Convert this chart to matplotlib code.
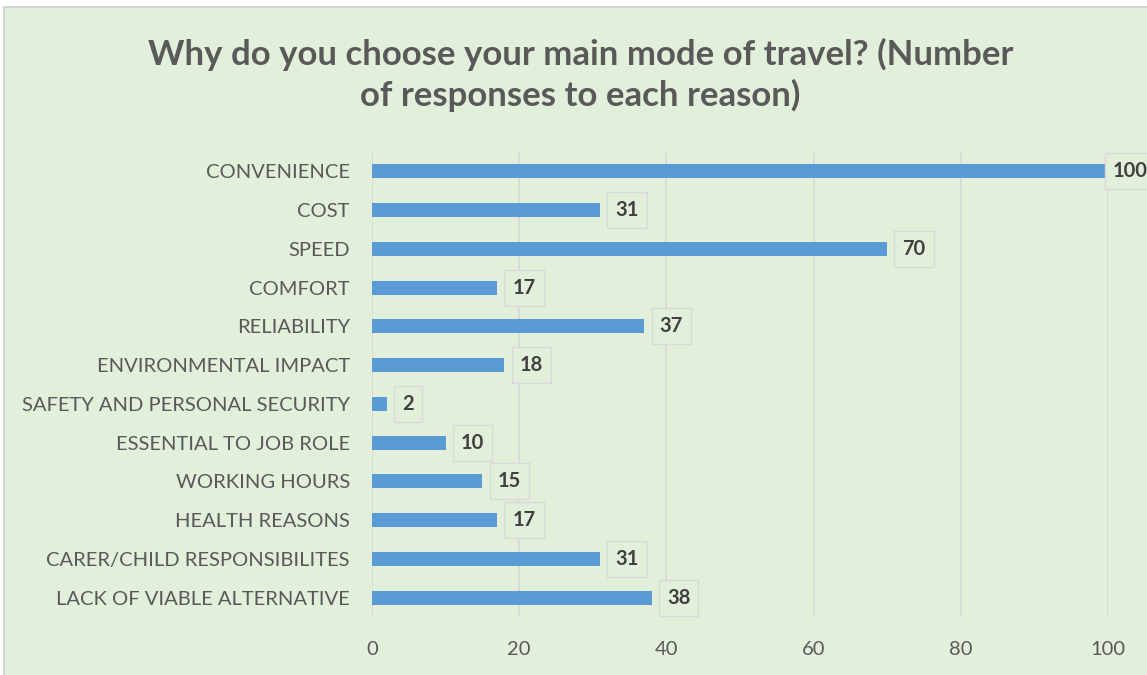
import matplotlib.pyplot as plt
from matplotlib.patches import Rectangle

reasons = ["CONVENIENCE", "COST", "SPEED", "COMFORT", "RELIABILITY",
           "ENVIRONMENTAL IMPACT", "SAFETY AND PERSONAL SECURITY",
           "ESSENTIAL TO JOB ROLE", "WORKING HOURS", "HEALTH REASONS",
           "CARER/CHILD RESPONSIBILITES", "LACK OF VIABLE ALTERNATIVE"]
responses = [100, 31, 70, 17, 37, 18, 2, 10, 15, 17, 31, 38]
x_ticks = [0, 20, 40, 60, 80, 100]

bg = "#E2EFDA"
plt.rcParams['font.family'] = ['Lato', 'DejaVu Sans']

fig = plt.figure(figsize=(11.47, 6.75), dpi=100)
fig.patch.set_facecolor("white")
# green chart area with thin grey frame
fig.patches.append(Rectangle((4 / 1147, -0.01), 1.0, 1 - 7 / 675 + 0.01,
                             transform=fig.transFigure, facecolor=bg,
                             edgecolor="#D0D0D0", linewidth=1.2, zorder=-10))

ax = fig.add_axes([372 / 1147, 1 - 617 / 675, (1108 - 372) / 1147, (617 - 152) / 675])
ax.set_facecolor(bg)

ypos = list(range(len(reasons)))
ax.barh(ypos, responses, height=0.36, color="#5B9BD5", zorder=3)

for y, v in zip(ypos, responses):
    # the label at the far right is pulled back over the bar end
    dx = 11 if v < max(x_ticks) else 3.5
    ax.annotate(str(v), xy=(v, y), xytext=(dx, 0), textcoords="offset points",
                ha="left", va="center", fontsize=14.5, fontweight="bold",
                color="#404040", zorder=4, annotation_clip=False,
                bbox=dict(boxstyle="square,pad=0.4", facecolor=bg,
                          edgecolor="#D9D9D9", linewidth=1))

ax.set_xlim(0, 100)
ax.set_ylim(len(reasons) - 0.5, -0.5)
ax.set_xticks(x_ticks)
ax.set_yticks(ypos)
ax.set_yticklabels(reasons)
ax.grid(axis="x", color="#D9D9D9", linewidth=1.3, zorder=0)
ax.set_axisbelow(True)
for s in ax.spines.values():
    s.set_visible(False)
ax.tick_params(axis="both", length=0, labelsize=14.5, labelcolor="#595959")
ax.tick_params(axis="x", pad=17)
ax.tick_params(axis="y", pad=16)

fig.text(0.506, 0.889, "Why do you choose your main mode of travel? (Number\nof responses to each reason)",
         ha="center", va="center", fontsize=25, fontweight="bold",
         color="#595959", linespacing=1.3)

fig.savefig("out.png", dpi=100, facecolor=fig.get_facecolor())
